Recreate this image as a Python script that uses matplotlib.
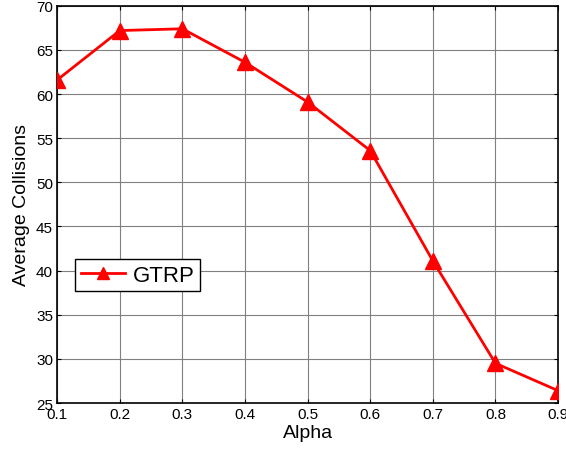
import matplotlib
matplotlib.use('Agg')
import matplotlib.pyplot as plt

plt.rcParams['font.family'] = ['Liberation Sans', 'DejaVu Sans']

# 数据
alpha = [0.1, 0.2, 0.3, 0.4, 0.5, 0.6, 0.7, 0.8, 0.9]
collisions = [61.6, 67.2, 67.4, 63.6, 59.1, 53.6, 41.1, 29.5, 26.4]
xticks = [0.1, 0.2, 0.3, 0.4, 0.5, 0.6, 0.7, 0.8, 0.9]
yticks = [25, 30, 35, 40, 45, 50, 55, 60, 65, 70]

fig = plt.figure(figsize=(5.66, 4.56), dpi=100)
ax = fig.add_axes([0.101, 0.114, 0.885, 0.871])

ax.plot(alpha, collisions, color='red', linewidth=2, marker='^', markersize=11,
        label='GTRP', zorder=3)

ax.set_xlim(0.1, 0.9)
ax.set_ylim(25, 70)
ax.set_xticks(xticks)
ax.set_xticklabels(['0.1', '0.2', '0.3', '0.4', '0.5', '0.6', '0.7', '0.8', '0.9'])
ax.set_yticks(yticks)

ax.grid(True, color='#808080', linewidth=0.8)
ax.tick_params(direction='in', length=3, labelsize=11, pad=3, top=True, right=True)
for s in ax.spines.values():
    s.set_linewidth(1.2)

ax.set_xlabel('Alpha', fontsize=14, labelpad=2)
ax.set_ylabel('Average Collisions', fontsize=14, labelpad=4)

# 图例
leg = ax.legend(loc='upper left', bbox_to_anchor=(0.0355, 0.3625), borderaxespad=0,
                fontsize=16, fancybox=False, framealpha=1, edgecolor='black',
                handlelength=2.0, handletextpad=0.35, borderpad=0.25, markerscale=0.8)
leg.get_frame().set_linewidth(1.0)

plt.savefig('out.png', dpi=100)
